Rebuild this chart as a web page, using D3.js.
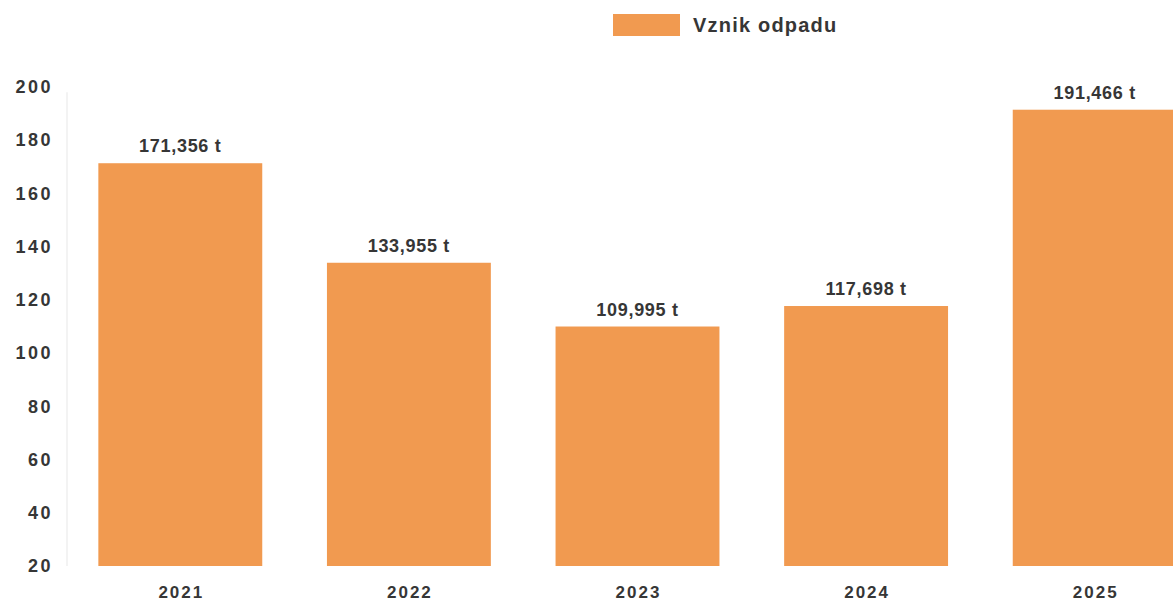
<!DOCTYPE html>
<html>
<head>
<meta charset="utf-8">
<script src="https://cdn.jsdelivr.net/npm/d3@7"></script>
<style>
  body { margin: 0; background: #ffffff; }
  text { font-family: "Liberation Sans", Arial, sans-serif; }
</style>
</head>
<body>
<div id="chart"></div>
<script>
// Data.
const years = ['2021', '2022', '2023', '2024', '2025'];
const values = [171.356, 133.955, 109.995, 117.698, 191.466];
const yTicks = [20, 40, 60, 80, 100, 120, 140, 160, 180, 200];
const seriesName = 'Vznik odpadu';

const dimensions = {
  width: 1173,
  height: 610,
  left: 66,
  right: 1209,
  top: 87,
  bottom: 566,
};

const color = '#f19a50';
const textColor = '#363636';

const svg = d3.select('#chart')
      .append('svg')
      .attr('width', dimensions.width)
      .attr('height', dimensions.height);

const x = d3.scaleBand()
      .domain(years)
      .range([dimensions.left, dimensions.right])
      .paddingInner(0.283)
      .paddingOuter(0.1415);

const y = d3.scaleLinear()
      .domain([20, 200])
      .range([dimensions.bottom, dimensions.top]);

// Faint axis line.
svg.append('line')
  .attr('x1', dimensions.left + 1)
  .attr('x2', dimensions.left + 1)
  .attr('y1', y(198))
  .attr('y2', y(20))
  .attr('stroke', '#f3f3f3')
  .attr('stroke-width', 2);

// Y axis.
const yAxis = svg.append('g')
      .attr('transform', `translate(${dimensions.left - 13},0)`)
      .call(d3.axisLeft(y).tickValues(yTicks).tickSize(0).tickPadding(0));
yAxis.select('.domain').remove();
yAxis.selectAll('text')
  .attr('fill', textColor)
  .style('font-size', '18px')
  .style('font-weight', 'bold')
  .style('letter-spacing', '2.5px');

// X axis labels.
const xAxis = svg.append('g')
      .attr('transform', `translate(1,${dimensions.bottom + 20})`)
      .call(d3.axisBottom(x).tickSize(0).tickPadding(0));
xAxis.select('.domain').remove();
xAxis.selectAll('text')
  .attr('fill', textColor)
  .style('font-size', '17px')
  .style('font-weight', 'bold')
  .style('letter-spacing', '2px');

// Bars.
const data = years.map((d, i) => ({ year: d, value: values[i] }));

svg.append('g')
  .selectAll('rect')
  .data(data)
  .join('rect')
  .attr('x', d => x(d.year))
  .attr('y', d => y(d.value))
  .attr('width', x.bandwidth())
  .attr('height', d => y(20) - y(d.value))
  .attr('fill', color);

// Value labels.
const fmt = d3.formatLocale({ decimal: ',', thousands: ' ', grouping: [3], currency: ['', ''] }).format('.3f');

svg.append('g')
  .selectAll('text')
  .data(data)
  .join('text')
  .attr('x', d => x(d.year) + x.bandwidth() / 2)
  .attr('y', d => y(d.value) - 11)
  .attr('text-anchor', 'middle')
  .attr('fill', textColor)
  .style('font-size', '18px')
  .style('font-weight', 'bold')
  .style('letter-spacing', '0.7px')
  .text(d => `${fmt(d.value)} t`);

// Legend.
const legend = svg.append('g').attr('transform', 'translate(613,14)');
legend.append('rect')
  .attr('width', 67)
  .attr('height', 22)
  .attr('fill', color);
legend.append('text')
  .attr('x', 80)
  .attr('y', 18)
  .attr('fill', textColor)
  .style('font-size', '20px')
  .style('font-weight', 'bold')
  .style('letter-spacing', '1.2px')
  .text(seriesName);
</script>
</body>
</html>
